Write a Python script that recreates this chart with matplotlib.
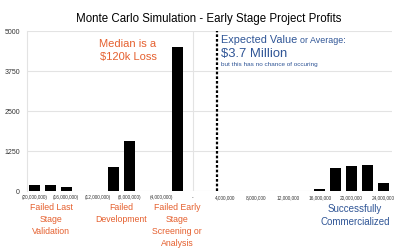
import matplotlib
matplotlib.use("Agg")
import matplotlib.pyplot as plt

plt.rcParams['font.family'] = ['Liberation Sans', 'DejaVu Sans']

# profit bins (millions) and number of simulated outcomes
bins = [-20, -18, -16, -14, -12, -10, -8, -6, -4, -2, 0,
        2, 4, 6, 8, 10, 12, 14, 16, 18, 20, 22, 24]
counts = [200, 200, 110, 0, 0, 750, 1560, 0, 0, 4500, 0,
          0, 0, 0, 0, 0, 0, 0, 75, 730, 780, 825, 250]

xticks = [-20, -16, -12, -8, -4, 0, 4, 8, 12, 16, 20, 24]
yticks = [0, 1250, 2500, 3750, 5000]
expected_value = 3.0  # where the dashed marker is drawn

orange = '#E5602F'
blue = '#2F5596'
grid = '#e3e3e3'


def money(v):
    if v == 0:
        return '-'
    s = f"{abs(v) * 1000000:,}"
    return f"({s})" if v < 0 else s


fig = plt.figure(figsize=(4, 2.5), dpi=100)
ax = fig.add_axes([27 / 400, 1 - 191 / 250, (392 - 27) / 400, 160 / 250])

ax.bar(bins, counts, width=1.4, color='black', zorder=3)
ax.axvline(0, color=grid, lw=0.8, zorder=1)
ax.axvline(expected_value, color='black', lw=1.6, linestyle=(0, (1.2, 0.9)), zorder=4)

ax.set_xlim(-20.93, 25.1)
ax.set_ylim(0, 5000)
ax.set_yticks(yticks)
ax.set_xticks(xticks)
ax.set_xticklabels([money(t) for t in xticks], fontsize=3.4, color='#333333')
ax.tick_params(axis='y', labelsize=5, length=0, pad=5, colors='#333333')
ax.tick_params(axis='x', length=0, pad=3)
ax.yaxis.grid(True, color=grid, lw=0.8, zorder=0)
for s in ['top', 'right', 'bottom']:
    ax.spines[s].set_visible(False)
ax.spines['left'].set_color(grid)

fig.text(208.5 / 400, 1 - 19 / 250, 'Monte Carlo Simulation - Early Stage Project Profits',
         ha='center', va='center', fontsize=8.3)

fig.text(128 / 400, 1 - 50.5 / 250, 'Median is a\n$120k Loss', ha='center', va='center',
         fontsize=8, color=orange, linespacing=1.3)

fig.text(221 / 400, 1 - 43 / 250, 'Expected Value', ha='left', va='baseline',
         fontsize=7.8, color=blue)
fig.text(300 / 400, 1 - 43 / 250, 'or Average:', ha='left', va='baseline',
         fontsize=6.4, color=blue)
fig.text(221 / 400, 1 - 54 / 250, '$3.7 Million', ha='left', va='center',
         fontsize=9.4, color=blue)
fig.text(221 / 400, 1 - 64.5 / 250, 'but this has no chance of occuring', ha='left', va='center',
         fontsize=4.6, color=blue)

below = 1 - 203 / 250
fig.text(51 / 400, below, 'Failed Last\nStage\nValidation', ha='center', va='top',
         fontsize=6.3, color=orange, linespacing=1.45)
fig.text(121 / 400, below, 'Failed\nDevelopment', ha='center', va='top',
         fontsize=6.3, color=orange, linespacing=1.45)
fig.text(177 / 400, below, 'Failed Early\nStage\nScreening or\nAnalysis', ha='center', va='top',
         fontsize=6.3, color=orange, linespacing=1.45)
fig.text(355 / 400, 1 - 204.5 / 250, 'Successfully\nCommercialized', ha='center', va='top',
         fontsize=7, color=blue, linespacing=1.35)

fig.savefig('out.png', dpi=100)
